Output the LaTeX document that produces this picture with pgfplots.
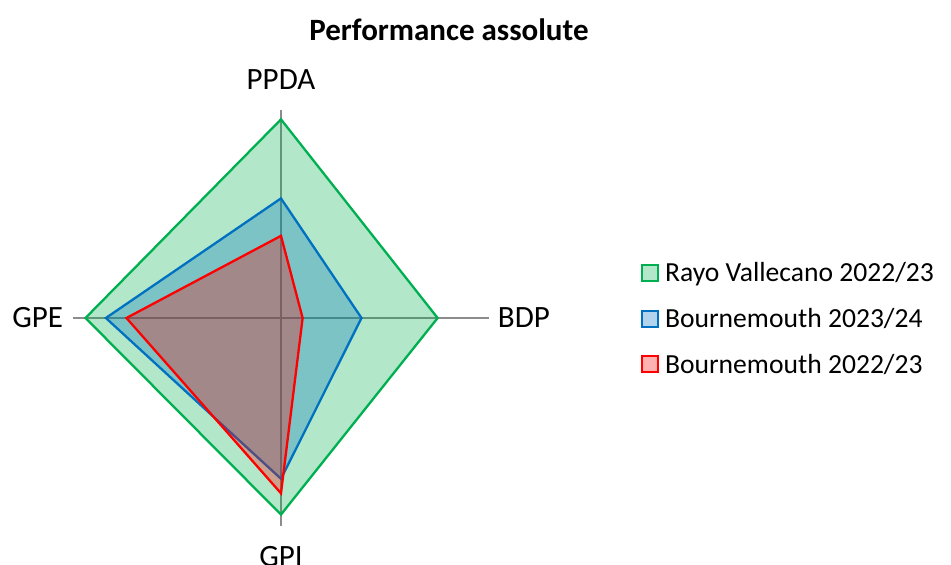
\documentclass[border=0pt]{standalone}
\usepackage{pgfplots}
\pgfplotsset{compat=1.18}
\usepackage{fontspec}
\setmainfont{Carlito}
\definecolor{cgreen}{HTML}{00B050}
\definecolor{cblue}{HTML}{0070C0}
\definecolor{cred}{HTML}{FF0000}
\definecolor{caxis}{HTML}{8C8C8C}
\begin{document}
\begin{tikzpicture}
\path[use as bounding box] (0,0) rectangle (951pt,565pt);
\node[font=\bfseries\fontsize{31}{36}\selectfont] at (449pt,535pt) {Performance assolute};
\begin{axis}[
  at={(281pt,247pt)}, anchor=origin,
  x=208pt, y=208pt,
  xmin=-1, xmax=1, ymin=-1, ymax=1,
  hide axis, clip=false,
  legend style={at={(axis cs:1.73,0.276)}, anchor=north west, draw=none, fill=none,
    inner sep=0pt, row sep=21pt, font=\fontsize{27.6}{33}\selectfont,
    /tikz/every odd column/.append style={column sep=4pt},
    /tikz/every even column/.append style={column sep=6pt}},
  legend cell align=left,
  legend image code/.code={\draw[#1,line width=2pt] (0pt,-8pt) rectangle (16pt,8pt);},
]
\addplot[caxis, line width=1.3pt, forget plot] coordinates {(-1,0) (1,0)};
\addplot[caxis, line width=1.3pt, forget plot] coordinates {(0,-1) (0,1)};
% PPDA (90), BDP (0), GPI (270), GPE (180)
\addplot[data cs=polar, draw=cgreen, line width=2.3pt, fill=cgreen, fill opacity=0.3, draw opacity=1, line join=miter]
  coordinates {(90,0.955) (0,0.753) (270,0.945) (180,0.940)} -- cycle;
\addlegendentry{Rayo Vallecano 2022/23}
\addplot[data cs=polar, draw=cblue, line width=2.3pt, fill=cblue, fill opacity=0.3, draw opacity=1, line join=miter]
  coordinates {(90,0.575) (0,0.387) (270,0.773) (180,0.842)} -- cycle;
\addlegendentry{Bournemouth 2023/24}
\addplot[data cs=polar, draw=cred, line width=2.3pt, fill=cred, fill opacity=0.3, draw opacity=1, line join=miter]
  coordinates {(90,0.395) (0,0.104) (270,0.843) (180,0.743)} -- cycle;
\addlegendentry{Bournemouth 2022/23}
\node[font=\fontsize{31}{36}\selectfont] at (axis cs:0,1.145) {PPDA};
\node[font=\fontsize{31}{36}\selectfont] at (axis cs:1.168,0) {BDP};
\node[font=\fontsize{31}{36}\selectfont] at (axis cs:0,-1.145) {GPI};
\node[font=\fontsize{31}{36}\selectfont] at (axis cs:-1.17,0) {GPE};
\end{axis}
\end{tikzpicture}
\end{document}
